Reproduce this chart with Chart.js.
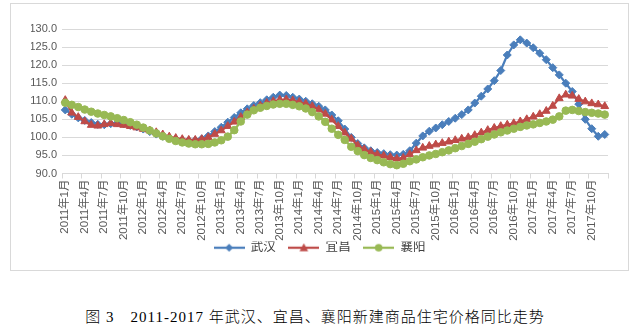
<!DOCTYPE html>
<html>
<head>
<meta charset="utf-8">
<script src="https://cdn.jsdelivr.net/npm/chart.js@4.4.0/dist/chart.umd.min.js"></script>
<style>
  body { margin: 0; width: 638px; height: 335px; background: #fff; position: relative; overflow: hidden; }
  #caja { position: absolute; left: 10px; top: 3px; width: 617px; height: 266px; border: 1px solid #d9d9d9; }
  #pie { position: absolute; left: -4px; width: 638px; top: 305px; text-align: center; letter-spacing: 1px;
         font: 300 15px "Liberation Serif", "Noto Sans CJK SC"; color: #000; }
</style>
</head>
<body>
<div id="caja"><canvas id="grafica" width="617" height="266"></canvas></div>
<div id="pie">图 3&emsp;2011-2017 年武汉、宜昌、襄阳新建商品住宅价格同比走势</div>
<script>
// === DATOS ===
const anios = [2011, 2012, 2013, 2014, 2015, 2016, 2017];
const meses = [];
anios.forEach(a => { for (let m = 1; m <= 12; m++) meses.push(a + "年" + m + "月"); });

const wuhan = [
  107.6, 106.4, 105.4, 104.7, 104.1, 103.6, 103.5, 103.8, 104.0, 103.7, 103.3, 102.9,
  102.3, 101.6, 100.9, 100.3, 99.8, 99.4, 99.2, 99.1, 99.2, 99.6, 100.4, 101.6,
  102.8, 104.2, 105.5, 106.8, 107.9, 108.8, 109.6, 110.4, 111.1, 111.7, 111.6, 111.1,
  110.6, 110.0, 109.3, 108.6, 107.6, 106.2, 104.6, 102.3, 100.0, 98.3, 97.1, 96.3,
  95.8, 95.5, 95.2, 95.1, 95.3, 96.3, 98.4, 100.4, 101.7, 102.6, 103.5, 104.4,
  105.3, 106.3, 107.6, 109.5, 111.4, 113.4, 115.7, 118.5, 122.8, 125.6, 127.0, 126.1,
  124.8, 123.3, 121.5, 119.3, 117.3, 115.0, 112.7, 109.2, 105.0, 102.4, 100.3, 100.8
];
const yichang = [
  110.3, 106.8, 105.6, 104.4, 103.4, 103.2, 103.6, 103.9, 103.6, 103.4, 103.1, 102.7,
  102.3, 101.9, 101.4, 100.8, 100.2, 99.8, 99.5, 99.3, 99.3, 99.5, 100.0, 100.9,
  101.9, 103.1, 104.3, 105.6, 106.9, 107.9, 108.8, 109.5, 110.0, 110.4, 110.5, 110.2,
  109.8, 109.3, 108.6, 107.7, 106.5, 104.9, 103.1, 101.3, 99.6, 97.8, 96.7, 95.9,
  95.3, 94.9, 94.5, 94.1, 94.3, 95.3, 96.4, 97.1, 97.6, 98.0, 98.4, 98.8,
  99.2, 99.6, 100.0, 100.6, 101.3, 102.0, 102.6, 103.1, 103.5, 103.9, 104.4, 105.0,
  105.7, 106.4, 107.3, 108.7, 110.8, 111.8, 111.5, 110.6, 109.9, 109.4, 109.1, 108.6
];
const xiangyang = [
  109.6, 109.0, 108.4, 107.7, 107.1, 106.6, 106.2, 105.8, 105.3, 104.8, 104.2, 103.5,
  102.7, 101.9, 101.1, 100.3, 99.6, 99.0, 98.6, 98.3, 98.1, 98.1, 98.2, 98.6,
  99.2, 100.2, 102.0, 104.4, 106.3, 107.5, 108.2, 108.7, 109.1, 109.3, 109.3, 109.0,
  108.6, 108.0, 107.0, 105.8, 104.3, 102.4, 100.7, 99.3, 97.4, 96.2, 95.1, 94.3,
  93.7, 93.1, 92.6, 92.3, 92.7, 93.4, 93.9, 94.5, 95.0, 95.4, 95.9, 96.4,
  97.0, 97.6, 98.2, 98.8, 99.5, 100.2, 100.8, 101.4, 101.9, 102.4, 102.9, 103.3,
  103.6, 104.0, 104.4, 104.9, 105.8, 107.4, 107.6, 107.3, 107.0, 106.8, 106.6, 106.3
];

const AZUL = "#4A7EBB", ROJO = "#BE4B48", VERDE = "#98B954";
const GRIS = "#595959", LINEA = "#d9d9d9";
const FUENTE = '"Liberation Sans", "Noto Sans CJK SC", sans-serif';

// icono de leyenda: línea con marcador al centro (como Excel)
function iconoLeyenda(color, estilo) {
  const c = document.createElement("canvas");
  c.width = 31; c.height = 10;
  const g = c.getContext("2d");
  g.strokeStyle = color; g.fillStyle = color; g.lineWidth = 2.25;
  g.beginPath(); g.moveTo(0, 5); g.lineTo(31, 5); g.stroke();
  g.beginPath();
  if (estilo === "rectRot") {
    g.moveTo(15.5, 1); g.lineTo(19.5, 5); g.lineTo(15.5, 9); g.lineTo(11.5, 5);
  } else if (estilo === "triangle") {
    g.moveTo(15.5, 0.5); g.lineTo(19.8, 8.5); g.lineTo(11.2, 8.5);
  } else {
    g.arc(15.5, 5, 3.8, 0, Math.PI * 2);
  }
  g.closePath(); g.fill();
  return c;
}
const iconos = [iconoLeyenda(AZUL, "rectRot"), iconoLeyenda(ROJO, "triangle"), iconoLeyenda(VERDE, "circle")];

function serie(label, data, color, estilo, radio, orden) {
  return {
    label, data,
    borderColor: color, backgroundColor: color,
    pointBackgroundColor: color, pointBorderColor: color,
    pointStyle: estilo, pointRadius: radio, pointBorderWidth: 1,
    borderWidth: 2.25, tension: 0, order: orden
  };
}

new Chart(document.getElementById("grafica"), {
  type: "line",
  data: {
    labels: meses,
    datasets: [
      serie("武汉", wuhan, AZUL, "rectRot", 4, 3),
      serie("宜昌", yichang, ROJO, "triangle", 4.5, 2),
      serie("襄阳", xiangyang, VERDE, "circle", 3.8, 1)
    ]
  },
  options: {
    responsive: false,
    animation: false,
    layout: { padding: { left: 20, right: 20, top: 25, bottom: 6 } },
    plugins: {
      tooltip: { enabled: false },
      legend: {
        position: "bottom",
        labels: {
          usePointStyle: true,
          pointStyleWidth: 31,
          padding: 0,
          color: "#404040",
          font: { size: 12.5, family: FUENTE },
          // espacio extra tras los dos primeros textos para separar los elementos
          generateLabels: chart => chart.data.datasets.map((d, i) => ({
            text: d.label + (i < 2 ? "\u2003" : ""), pointStyle: iconos[i], fillStyle: d.borderColor,
            strokeStyle: d.borderColor, lineWidth: 0, hidden: false,
            datasetIndex: i, fontColor: "#404040"
          }))
        }
      }
    },
    scales: {
      x: {
        offset: true,
        grid: {
          offset: true, drawOnChartArea: false, tickLength: 5,
          color: ctx => (ctx.index === undefined || ctx.index % 3 === 0) ? LINEA : "rgba(0,0,0,0)"
        },
        border: { color: LINEA },
        ticks: {
          autoSkip: false, maxRotation: 90, minRotation: 90, padding: 1,
          color: GRIS, font: { size: 11.5, family: FUENTE },
          callback: (v, i) => i % 3 === 0 ? meses[i] : ""
        },
        afterFit: s => { s.height = 68; }
      },
      y: {
        min: 90, max: 130,
        grid: { color: LINEA, drawTicks: false },
        border: { display: false },
        ticks: {
          stepSize: 5, padding: 5, color: GRIS, font: { size: 11, family: FUENTE },
          callback: v => v.toFixed(1)
        },
        afterFit: s => { s.width = 31; }
      }
    }
  }
});
</script>
</body>
</html>
